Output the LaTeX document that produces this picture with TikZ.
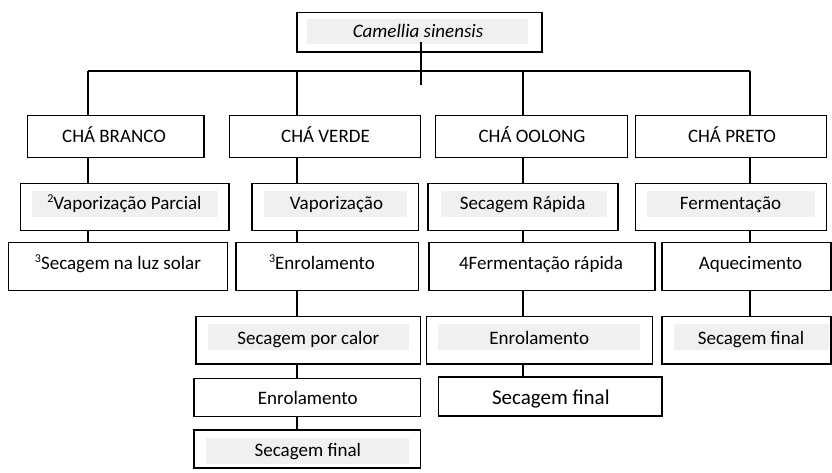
\documentclass[tikz,border=0pt]{standalone}
\usepackage{fontspec}
\setmainfont{Carlito}
\definecolor{grayfill}{RGB}{240,240,240}
\newcommand{\sups}[1]{\raisebox{6.5pt}{\fontsize{12}{12}\selectfont #1}}
\begin{document}
\begin{tikzpicture}[x=1pt,y=-1pt,
  bx/.style={draw=black, line width=1.3pt, inner sep=0pt},
  tx/.style={anchor=base, inner sep=0pt, font=\fontsize{19}{22}\selectfont, text=black},
  txl/.style={anchor=base, inner sep=0pt, font=\fontsize{21}{24}\selectfont, text=black},
  ln/.style={draw=black, line width=1.1pt},
  gf/.style={fill=grayfill}]
\useasboundingbox (0,0) rectangle (832,472);

% gray highlight bands
\fill[gf] (307,19) rectangle (528,44);
\fill[gf] (32,191) rectangle (218,216.7);
\fill[gf] (264,191) rectangle (406.7,216.7);
\fill[gf] (441,191) rectangle (607,216.7);
\fill[gf] (647,191) rectangle (815,216.7);
\fill[gf] (208,324.3) rectangle (409,350);
\fill[gf] (438.3,324.3) rectangle (640,350);
\fill[gf] (674,324.3) rectangle (829,350);
\fill[gf] (206,437.7) rectangle (409,464);

% boxes
\node[bx, minimum width=245pt, minimum height=39.5pt] (top) at (419.5,32.25) {};
\node[bx, minimum width=176.5pt, minimum height=41.6pt] (br) at (115.75,136.5) {};
\node[bx, minimum width=191.2pt, minimum height=41.6pt] (ve) at (325.1,136.5) {};
\node[bx, minimum width=191.6pt, minimum height=41.6pt] (oo) at (531.5,136.5) {};
\node[bx, minimum width=191pt, minimum height=41.6pt] (pr) at (731.2,136.5) {};

\node[bx, minimum width=208.3pt, minimum height=47.4pt] (vp) at (124.85,207) {};
\node[bx, minimum width=166.3pt, minimum height=47.4pt] (va) at (335.15,207) {};
\node[bx, minimum width=190pt, minimum height=47.4pt] (sr) at (523,207) {};
\node[bx, minimum width=191pt, minimum height=47.4pt] (fe) at (731.2,207) {};

\node[bx, minimum width=219.4pt, minimum height=48pt] (sl) at (118,266.7) {};
\node[bx, minimum width=182.3pt, minimum height=48pt] (en) at (327.15,266.7) {};
\node[bx, minimum width=226pt, minimum height=48pt] (fr) at (542,266.7) {};
\node[bx, minimum width=169pt, minimum height=48pt] (aq) at (746.5,266.7) {};

\node[bx, minimum width=224.7pt, minimum height=47.3pt] (sc) at (308.35,340.35) {};
\node[bx, minimum width=226pt, minimum height=47.3pt] (eo) at (539.7,340.35) {};
\node[bx, minimum width=169pt, minimum height=47.3pt] (sp) at (746.5,340.35) {};

\node[bx, minimum width=226.7pt, minimum height=38.4pt] (ev) at (307.35,397.5) {};
\node[bx, minimum width=223.7pt, minimum height=39pt] (so) at (550.15,396.5) {};

\node[bx, minimum width=226.7pt, minimum height=38pt] (sv) at (307.35,449) {};

% texts
\node[tx, font=\fontsize{19}{22}\selectfont\itshape] (top-t) at (418,37) {Camellia sinensis};
\node[tx] (br-t) at (114,142.3) {CHÁ BRANCO};
\node[tx] (ve-t) at (325.5,142.3) {CHÁ VERDE};
\node[tx] (oo-t) at (532,142.3) {CHÁ OOLONG};
\node[tx] (pr-t) at (732,142.3) {CHÁ PRETO};

\node[tx] (vp-t) at (124.5,209.3) {\sups{2}Vaporização Parcial};
\node[tx] (va-t) at (336.5,209.3) {Vaporização};
\node[tx] (sr-t) at (522.7,209.3) {Secagem Rápida};
\node[tx] (fe-t) at (730.5,209.3) {Fermentação};

\node[tx] (sl-t) at (118,269) {\sups{3}Secagem na luz solar};
\node[tx] (en-t) at (322,269) {\sups{3}Enrolamento};
\node[tx] (fr-t) at (541,269) {4Fermentação rápida};
\node[tx] (aq-t) at (750.5,269) {Aquecimento};

\node[tx] (sc-t) at (308.3,344) {Secagem por calor};
\node[tx] (eo-t) at (539.3,344) {Enrolamento};
\node[tx] (sp-t) at (751,344) {Secagem final};

\node[tx] (ev-t) at (307.8,404.3) {Enrolamento};
\node[txl] (so-t) at (550.8,404.3) {Secagem final};

\node[tx] (sv-t) at (307.8,456.7) {Secagem final};

% connector coordinates
\coordinate (c1) at (88,0);
\coordinate (c2) at (297,0);
\coordinate (c3) at (523,0);
\coordinate (c4) at (750,0);
\coordinate (ts) at (421,41.5);
\coordinate (te) at (421,85);
\coordinate (hb) at (0,71);

% connectors
\draw[ln] (ts) -- (te);
\draw[ln] (hb -| c1) -- (hb -| c4);
\draw[ln] (hb -| c1) -- (br.north -| c1);
\draw[ln] (hb -| c2) -- (ve.north -| c2);
\draw[ln] (hb -| c3) -- (oo.north -| c3);
\draw[ln] (hb -| c4) -- (pr.north -| c4);

\draw[ln] (br.south -| c1) -- (vp.north -| c1);
\draw[ln] (ve.south -| c2) -- (va.north -| c2);
\draw[ln] (oo.south -| c3) -- (sr.north -| c3);
\draw[ln] (pr.south -| c4) -- (fe.north -| c4);

\draw[ln] (vp.south -| c1) -- (sl.north -| c1);
\draw[ln] (va.south -| c2) -- (en.north -| c2);
\draw[ln] (sr.south -| c3) -- (fr.north -| c3);
\draw[ln] (fe.south -| c4) -- (aq.north -| c4);

\draw[ln] (en.south -| c2) -- (sc.north -| c2);
\draw[ln] (fr.south -| c3) -- (eo.north -| c3);
\draw[ln] (aq.south -| c4) -- (sp.north -| c4);

\draw[ln] (sc.south -| c2) -- (ev.north -| c2);
\draw[ln] (eo.south -| c3) -- (so.north -| c3);

\draw[ln] (ev.south -| c2) -- (sv.north -| c2);
\end{tikzpicture}
\end{document}
